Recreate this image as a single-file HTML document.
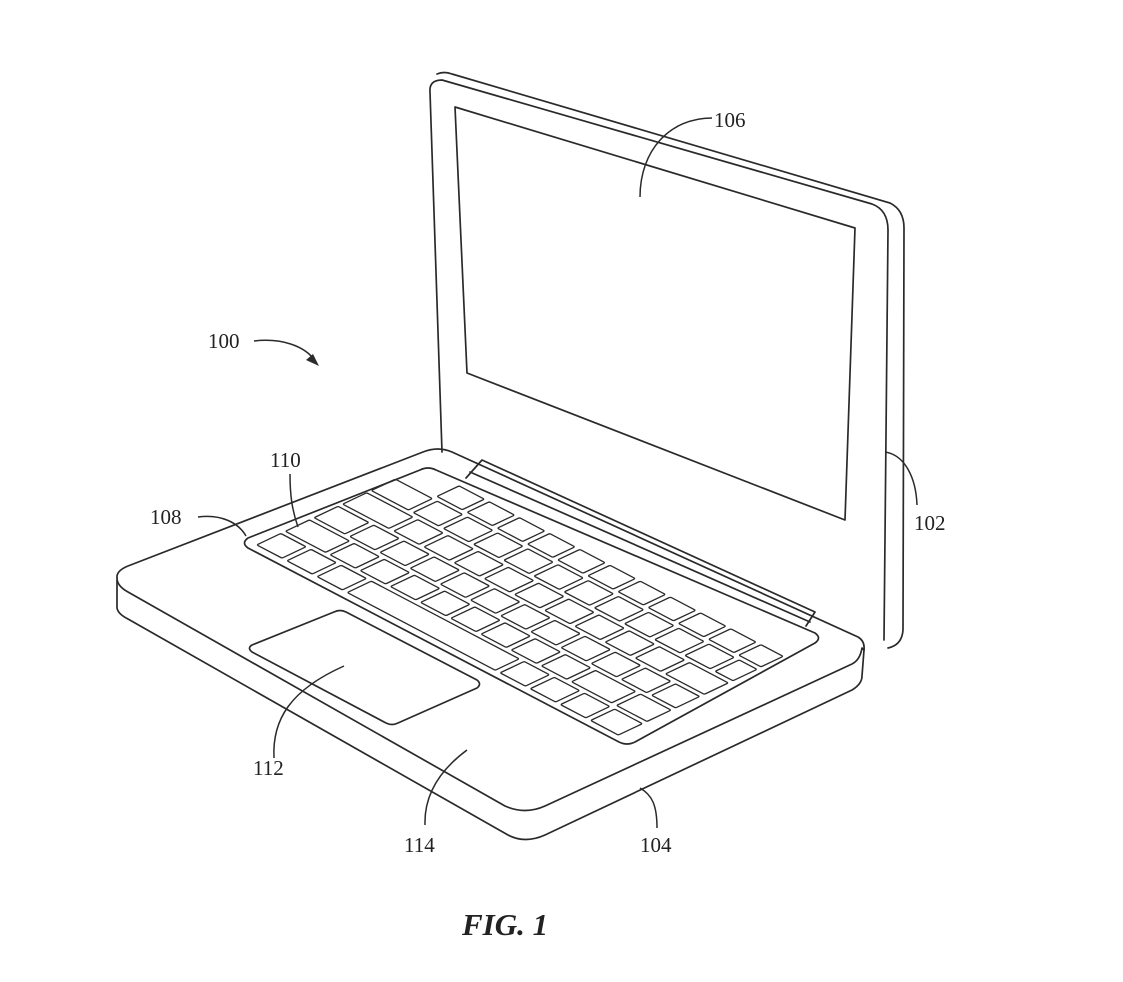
<!DOCTYPE html>
<html><head><meta charset="utf-8"><style>
html,body{margin:0;padding:0;background:#fff;}
svg{display:block}
text{font-family:"Liberation Serif",serif;fill:#222;}
.k rect{vector-effect:non-scaling-stroke;fill:none;stroke:#2a2a2a;stroke-width:1.3}
</style></head><body>
<svg width="1123" height="982" viewBox="0 0 1123 982" xmlns="http://www.w3.org/2000/svg">
<g fill="none" stroke="#2a2a2a" stroke-width="1.7" stroke-linejoin="round" stroke-linecap="round">
<path d="M437,74 Q444,71 452,74 L890,203 Q904,210 904,228 L903,630 Q902,645 888,648"/>
<path d="M442,452 L430,92 Q429,80 442,80 L872,204 Q888,210 888,230 L884,640"/>
<path d="M455,107 L855,228 L845,520 L467,373 Z"/>
<path d="M117,576 Q118,570 128,566 L423,452 Q438,446 452,452 L858,637 Q865,641 864,650 L862,648 Q860,660 852,664 L545,806 Q525,815 505,806 L128,592 Q117,586 117,578 Z"/>
<path d="M117,580 L117,608 Q118,614 128,619 L508,835 Q525,844 545,835 L852,690 Q862,684 862,676 L864,650"/>
<path d="M466,478 L482,460 L815,612 L806,626"/>
<path d="M470,472 L810,622"/>
<path d="M248,538 L420,470 Q428,466 436,470 L815,633 Q822,638 815,643 L635,742 Q627,746 619,742 L248,548 Q241,543 248,538 Z"/>
<path d="M252,645 L334,612 Q340,609 346,612 L477,680 Q482,684 477,688 L398,723 Q392,726 386,723 L252,652 Q247,648 252,645 Z"/>
</g>
<g class="k" transform="matrix(30.8,16.2,30.8,-14.6,250,545)">
<rect x="0.1" y="0.12" width="0.82" height="0.78" rx="0.04"/>
<rect x="1.08" y="0.12" width="0.82" height="0.78" rx="0.04"/>
<rect x="2.06" y="0.12" width="0.82" height="0.78" rx="0.04"/>
<rect x="3.04" y="0.12" width="4.8" height="0.78" rx="0.04"/>
<rect x="8.0" y="0.12" width="0.82" height="0.78" rx="0.04"/>
<rect x="8.98" y="0.12" width="0.82" height="0.78" rx="0.04"/>
<rect x="9.96" y="0.12" width="0.82" height="0.78" rx="0.04"/>
<rect x="10.94" y="0.12" width="0.9" height="0.78" rx="0.04"/>
<rect x="0.1" y="1.05" width="1.3" height="0.78" rx="0.04"/>
<rect x="1.55" y="1.05" width="0.82" height="0.78" rx="0.04"/>
<rect x="2.53" y="1.05" width="0.82" height="0.78" rx="0.04"/>
<rect x="3.51" y="1.05" width="0.82" height="0.78" rx="0.04"/>
<rect x="4.49" y="1.05" width="0.82" height="0.78" rx="0.04"/>
<rect x="5.47" y="1.05" width="0.82" height="0.78" rx="0.04"/>
<rect x="6.45" y="1.05" width="0.82" height="0.78" rx="0.04"/>
<rect x="7.43" y="1.05" width="0.82" height="0.78" rx="0.04"/>
<rect x="8.41" y="1.05" width="0.82" height="0.78" rx="0.04"/>
<rect x="9.39" y="1.05" width="1.3" height="0.78" rx="0.04"/>
<rect x="10.85" y="1.05" width="0.99" height="0.78" rx="0.04"/>
<rect x="0.1" y="1.98" width="1.0" height="0.78" rx="0.04"/>
<rect x="1.26" y="1.98" width="0.82" height="0.78" rx="0.04"/>
<rect x="2.24" y="1.98" width="0.82" height="0.78" rx="0.04"/>
<rect x="3.22" y="1.98" width="0.82" height="0.78" rx="0.04"/>
<rect x="4.2" y="1.98" width="0.82" height="0.78" rx="0.04"/>
<rect x="5.18" y="1.98" width="0.82" height="0.78" rx="0.04"/>
<rect x="6.16" y="1.98" width="0.82" height="0.78" rx="0.04"/>
<rect x="7.14" y="1.98" width="0.82" height="0.78" rx="0.04"/>
<rect x="8.12" y="1.98" width="0.82" height="0.78" rx="0.04"/>
<rect x="9.1" y="1.98" width="0.82" height="0.78" rx="0.04"/>
<rect x="10.08" y="1.98" width="0.82" height="0.78" rx="0.04"/>
<rect x="11.06" y="1.98" width="0.78" height="0.78" rx="0.04"/>
<rect x="0.1" y="2.91" width="1.5" height="0.78" rx="0.04"/>
<rect x="1.76" y="2.91" width="0.82" height="0.78" rx="0.04"/>
<rect x="2.74" y="2.91" width="0.82" height="0.78" rx="0.04"/>
<rect x="3.72" y="2.91" width="0.82" height="0.78" rx="0.04"/>
<rect x="4.7" y="2.91" width="0.82" height="0.78" rx="0.04"/>
<rect x="5.68" y="2.91" width="0.82" height="0.78" rx="0.04"/>
<rect x="6.66" y="2.91" width="0.82" height="0.78" rx="0.04"/>
<rect x="7.64" y="2.91" width="0.82" height="0.78" rx="0.04"/>
<rect x="8.62" y="2.91" width="0.82" height="0.78" rx="0.04"/>
<rect x="9.6" y="2.91" width="0.82" height="0.78" rx="0.04"/>
<rect x="10.58" y="2.91" width="1.26" height="0.78" rx="0.04"/>
<rect x="0.1" y="3.84" width="1.2" height="0.78" rx="0.04"/>
<rect x="1.46" y="3.84" width="0.82" height="0.78" rx="0.04"/>
<rect x="2.44" y="3.84" width="0.82" height="0.78" rx="0.04"/>
<rect x="3.42" y="3.84" width="0.82" height="0.78" rx="0.04"/>
<rect x="4.4" y="3.84" width="0.82" height="0.78" rx="0.04"/>
<rect x="5.38" y="3.84" width="0.82" height="0.78" rx="0.04"/>
<rect x="6.36" y="3.84" width="0.82" height="0.78" rx="0.04"/>
<rect x="7.34" y="3.84" width="0.82" height="0.78" rx="0.04"/>
<rect x="8.32" y="3.84" width="0.82" height="0.78" rx="0.04"/>
<rect x="9.3" y="3.84" width="0.82" height="0.78" rx="0.04"/>
<rect x="10.28" y="3.84" width="0.82" height="0.78" rx="0.04"/>
<rect x="11.26" y="3.84" width="0.58" height="0.78" rx="0.04"/>
<rect x="1.3" y="4.77" width="0.82" height="0.72" rx="0.04"/>
<rect x="2.28" y="4.77" width="0.82" height="0.72" rx="0.04"/>
<rect x="3.26" y="4.77" width="0.82" height="0.72" rx="0.04"/>
<rect x="4.24" y="4.77" width="0.82" height="0.72" rx="0.04"/>
<rect x="5.22" y="4.77" width="0.82" height="0.72" rx="0.04"/>
<rect x="6.2" y="4.77" width="0.82" height="0.72" rx="0.04"/>
<rect x="7.18" y="4.77" width="0.82" height="0.72" rx="0.04"/>
<rect x="8.16" y="4.77" width="0.82" height="0.72" rx="0.04"/>
<rect x="9.14" y="4.77" width="0.82" height="0.72" rx="0.04"/>
<rect x="10.12" y="4.77" width="0.82" height="0.72" rx="0.04"/>
<rect x="11.1" y="4.77" width="0.72" height="0.72" rx="0.04"/>
</g>
<g fill="none" stroke="#2a2a2a" stroke-width="1.5">
<path d="M254,341 C280,338 305,345 316,362"/>
<path d="M712,118 C670,118 640,150 640,197"/>
<path d="M198,517 C220,514 238,522 246,536"/>
<path d="M290,474 C290,495 292,510 298,527"/>
<path d="M274,758 C272,720 290,690 344,666"/>
<path d="M425,825 C424,795 440,770 467,750"/>
<path d="M657,828 C657,805 652,795 640,788"/>
<path d="M917,505 C916,478 905,455 885,452"/>
</g>
<path d="M319,366 L306,360 L313,354 Z" fill="#2a2a2a"/>
<g font-size="21">
<text x="208" y="348">100</text>
<text x="714" y="127">106</text>
<text x="150" y="524">108</text>
<text x="270" y="467">110</text>
<text x="253" y="775">112</text>
<text x="404" y="852">114</text>
<text x="640" y="852">104</text>
<text x="914" y="530">102</text>
</g>
<text x="462" y="935" font-size="31" font-weight="bold" font-style="italic">FIG. 1</text>
</svg>
</body></html>
